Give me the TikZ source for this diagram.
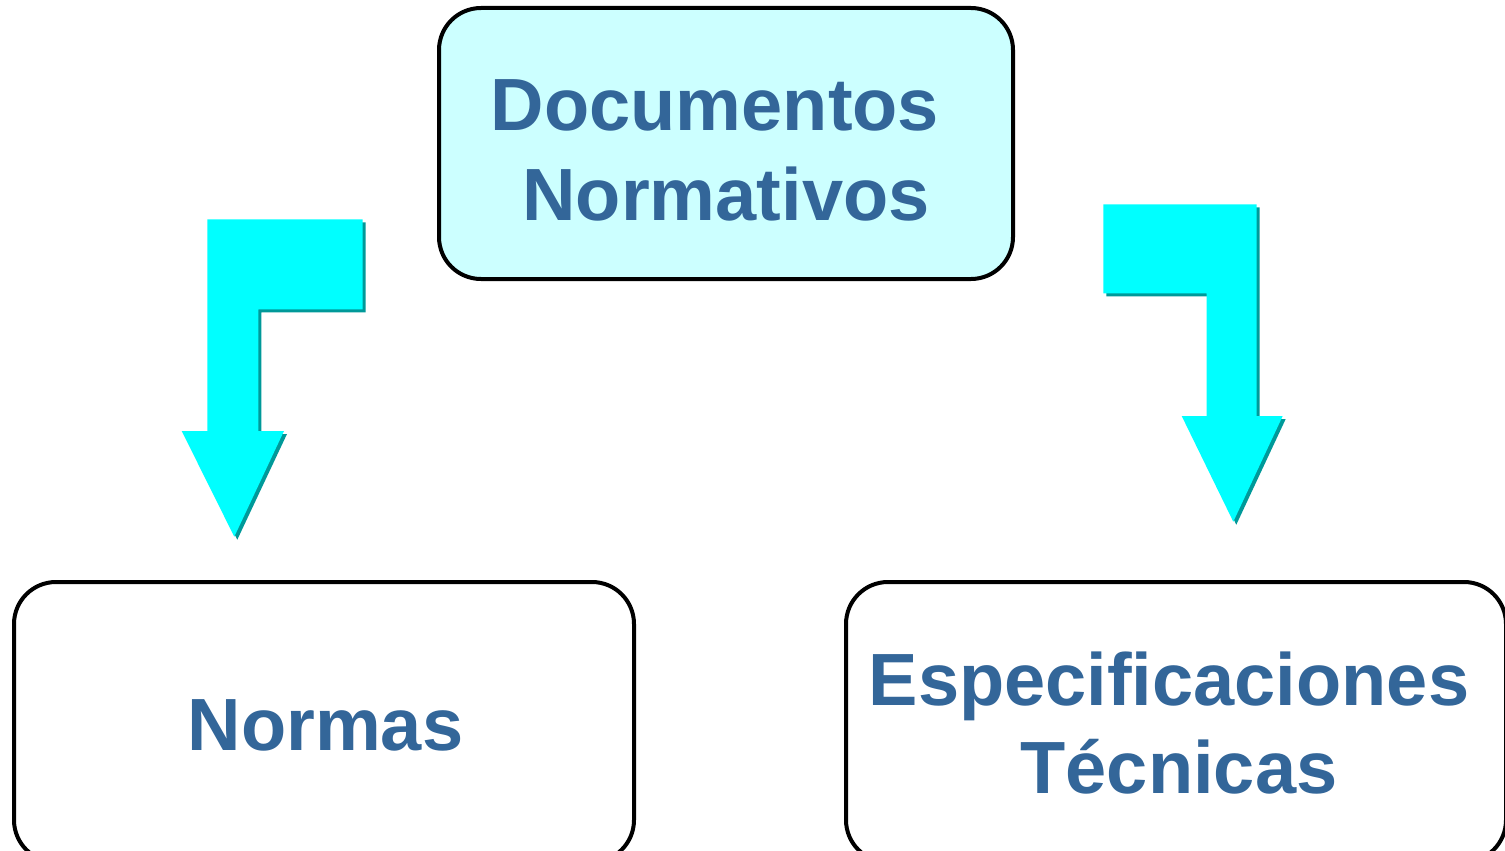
\documentclass[tikz,border=0pt]{standalone}
\usepackage{fontspec}
\setmainfont{Liberation Sans}
\definecolor{boxfill}{HTML}{CCFFFF}
\definecolor{txtblue}{HTML}{336699}
\definecolor{arrowfill}{HTML}{00FFFF}
\definecolor{arrowshadow}{HTML}{009999}
\begin{document}
\begin{tikzpicture}[x=1pt,y=-1pt,
  box/.style={draw=black,line width=4pt,rounded corners=42pt,inner sep=0pt},
  lbl/.style={anchor=base,inner sep=0pt,text=txtblue,font=\fontsize{74}{88}\selectfont\bfseries},
  bentarrow/.style={fill=arrowfill,draw=none},
  bentshadow/.style={fill=arrowshadow,draw=none}]
\useasboundingbox (0,0) rectangle (1505,851);
\clip (0,0) rectangle (1505,851);
\fill[white] (0,0) rectangle (1505,851);
% boxes
\node[box,fill=boxfill,minimum width=574pt,minimum height=271pt] (top) at (726,143.5) {};
\node[box,fill=white,minimum width=620pt,minimum height=280pt] (left) at (324,722) {};
\node[box,fill=white,minimum width=660pt,minimum height=280pt] (right) at (1176,722) {};
% labels
\node[lbl] (t1) at (715,130) {Documentos};
\node[lbl] (t2) at (726,220) {Normativos};
\node[lbl] (l1) at (325.5,750) {Normas};
\node[lbl] (r1) at (1169,705) {Especificaciones};
\node[lbl] (r2) at (1179,793) {Técnicas};
% left bent arrow
\begin{scope}[shift={(3,3)}]
\fill[bentshadow] (207.3,219.3) -- (362.7,219.3) -- (362.7,309.3) -- (258.3,309.3) -- (258.3,431) -- (284,431) -- (234.3,536.7) -- (181.7,431) -- (207.3,431) -- cycle;
\end{scope}
\fill[bentarrow] (207.3,219.3) -- (362.7,219.3) -- (362.7,309.3) -- (258.3,309.3) -- (258.3,431) -- (284,431) -- (234.3,536.7) -- (181.7,431) -- (207.3,431) -- cycle;
% right bent arrow
\begin{scope}[shift={(3,3)}]
\fill[bentshadow] (1103.3,204.3) -- (1256.7,204.3) -- (1256.7,416) -- (1282.7,416) -- (1233.3,521.7) -- (1181.7,416) -- (1206.7,416) -- (1206.7,293.3) -- (1103.3,293.3) -- cycle;
\end{scope}
\fill[bentarrow] (1103.3,204.3) -- (1256.7,204.3) -- (1256.7,416) -- (1282.7,416) -- (1233.3,521.7) -- (1181.7,416) -- (1206.7,416) -- (1206.7,293.3) -- (1103.3,293.3) -- cycle;
\end{tikzpicture}
\end{document}
